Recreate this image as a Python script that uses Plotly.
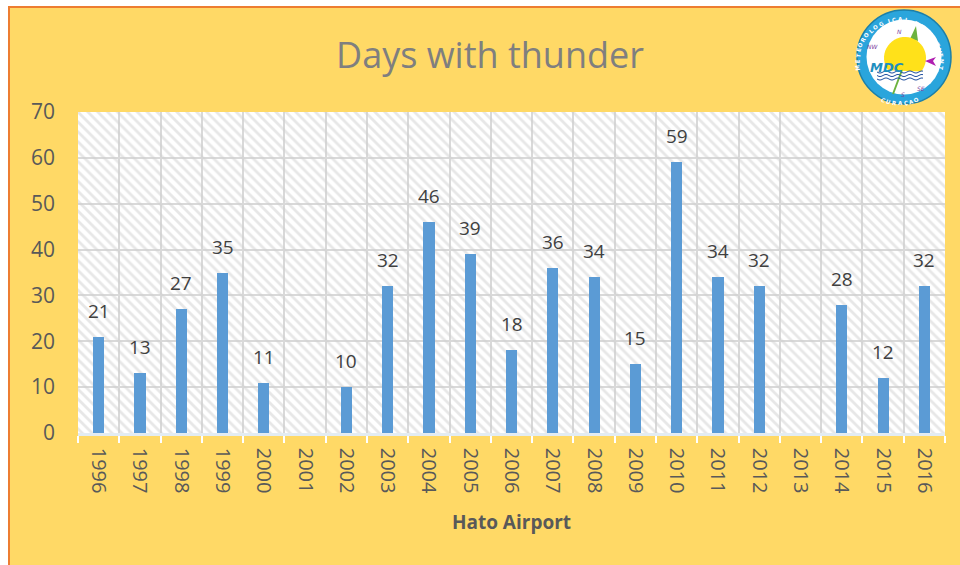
import math
import plotly.graph_objects as go

years = [str(y) for y in range(1996, 2017)]
days = [21, 13, 27, 35, 11, None, 10, 32, 46, 39, 18, 36, 34, 15, 59, 34, 32, None, 28, 12, 32]
panel = [70] * len(years)
title_text = "Days with thunder"
axis_title = "Hato Airport"
ring_top = "METEOROLOGICAL DEPARTMENT"
ring_bottom = "CURAÇAO"

W, H = 960, 565
L, R, T, B = 78, 945, 112, 433
FONT = "Open Sans"
GREY = "#595959"


def px(x):
    return (x - L) / (R - L)


def py(y):
    return (B - y) / (B - T)


fig = go.Figure()
fig.add_bar(x=years, y=panel, width=1, hoverinfo="skip", showlegend=False,
            marker=dict(color="rgba(0,0,0,0)", line_width=0,
                        pattern=dict(shape="\\", fgcolor="#cfcfcf", bgcolor="rgba(0,0,0,0)",
                                     size=7, solidity=0.4, fillmode="overlay")))
fig.add_bar(x=years, y=days, width=0.27, marker=dict(color="#5B9BD5", line_width=0), showlegend=False)

annotations = []
for i, value in enumerate(days):
    if value is not None:
        annotations.append(dict(x=i, y=value, xref="x", yref="y", text=str(value), showarrow=False,
                                yshift=26, font=dict(family=FONT, size=19, color="#404040")))

shapes = []


def block(x0, y0, x1, y1, color):
    shapes.append(dict(type="rect", layer="below", xref="paper", yref="paper",
                       x0=px(x0), x1=px(x1), y0=py(y1), y1=py(y0), fillcolor=color, line_width=0))


block(0, 0, 960, 6, "#FFFFFF")
block(0, 0, 8, 565, "#FFFFFF")
block(8, 6, 960, 8, "#ED7D31")
block(8, 6, 10, 565, "#ED7D31")


def circle(cx, cy, r, fill, line=None, lw=0):
    shapes.append(dict(type="circle", layer="above", xref="paper", yref="paper",
                       x0=px(cx - r), x1=px(cx + r), y0=py(cy + r), y1=py(cy - r), fillcolor=fill,
                       line=dict(color=line or fill, width=lw)))


def seg(x0, y0, x1, y1, color, w):
    shapes.append(dict(type="line", layer="above", xref="paper", yref="paper",
                       x0=px(x0), x1=px(x1), y0=py(y0), y1=py(y1), line=dict(color=color, width=w)))


def poly(points, color):
    path = "M " + " L ".join(f"{px(a):.5f},{py(b):.5f}" for a, b in points) + " Z"
    shapes.append(dict(type="path", layer="above", xref="paper", yref="paper", path=path,
                       fillcolor=color, line=dict(color=color, width=0)))


def wave(y):
    pts = []
    for i in range(24):
        x = 877 + i * 2.0
        pts.append(f"{px(x):.5f},{py(y + 1.1 * math.sin(i * 1.05)):.5f}")
    shapes.append(dict(type="path", layer="above", xref="paper", yref="paper",
                       path="M " + " L ".join(pts), line=dict(color="#1F4E9E", width=1)))


def small(x, y, s, size, color, angle=0, bold=False, italic=False):
    annotations.append(dict(x=px(x), y=py(y), xref="paper", yref="paper", text=f"<b>{s}</b>" if bold else s,
                            showarrow=False, textangle=angle, borderpad=0,
                            font=dict(family="DejaVu Sans", size=size, color=color,
                                      style="italic" if italic else "normal")))


CX, CY = 904, 57
circle(CX, CY, 47, "#2AA5DC", "#1C7FA8", 1.5)
circle(CX, CY, 37.5, "#FFFFFF")
seg(893, 94, 914, 38, "#6CB33F", 2)
poly([(916, 26), (910, 39), (918, 41)], "#6CB33F")
sun = []
for d in range(-40, 221, 8):
    a = math.radians(d)
    sun.append((905 + 21 * math.cos(a), 58 - 21 * math.sin(a)))
poly(sun, "#FFE11A")
poly([(925, 61), (936, 57), (933, 61), (936, 66)], "#B01FB0")
wave(72)
wave(75.5)
wave(79)
small(905, 59, "MDC", 13, "#1F8FBF", bold=True, italic=True)
for s, x, y in [("N", 903, 27), ("NW", 879, 42), ("S", 906, 90), ("SE", 926, 84)]:
    small(x, y, s, 6, "#7B3FA0", italic=True)
for i, ch in enumerate(ring_top):
    a = math.radians(-100 + i * 200 / (len(ring_top) - 1))
    small(CX + 42 * math.sin(a), CY - 42 * math.cos(a), ch, 5.5, "#FFFFFF", math.degrees(a), bold=True)
for i, ch in enumerate(ring_bottom):
    a = math.radians(-24 + i * 8)
    small(CX + 42 * math.sin(a), CY + 42 * math.cos(a), ch, 5.5, "#FFFFFF", -math.degrees(a), bold=True)

fig.update_layout(
    width=W, height=H, autosize=False, barmode="overlay", bargap=0,
    paper_bgcolor="#FFD966", plot_bgcolor="#FFFFFF",
    margin=dict(l=L, r=W - R, t=T, b=H - B),
    font=dict(family=FONT, color=GREY),
    title=dict(text=title_text, x=490 / W, xanchor="center", y=1 - 55 / H, yanchor="middle",
               font=dict(family=FONT, size=36, color="#7F7F7F")),
    shapes=shapes, annotations=annotations,
    xaxis=dict(type="category", tickson="boundaries", categoryorder="array", categoryarray=years,
               range=[-0.5, 20.5],
               showgrid=True, gridcolor="#D9D9D9", gridwidth=1.5, tickangle=90,
               ticks="outside", ticklen=7, tickwidth=1.5, tickcolor="#FFFFFF", ticklabelstandoff=8,
               showline=True, linecolor="#E3ECF2", linewidth=2.5,
               tickfont=dict(family=FONT, size=20, color=GREY),
               title=dict(text=f"<b>{axis_title}</b>", standoff=23,
                          font=dict(family=FONT, size=19, color=GREY))),
    yaxis=dict(range=[0, 70], dtick=10, showgrid=True, gridcolor="#D9D9D9", gridwidth=1.5,
               ticks="", zeroline=False, showline=False, ticklabelstandoff=22,
               tickfont=dict(family=FONT, size=21, color=GREY)),
)
fig.write_html("out.html", config=dict(displayModeBar=False),
               post_script="document.body.style.margin='0';")
